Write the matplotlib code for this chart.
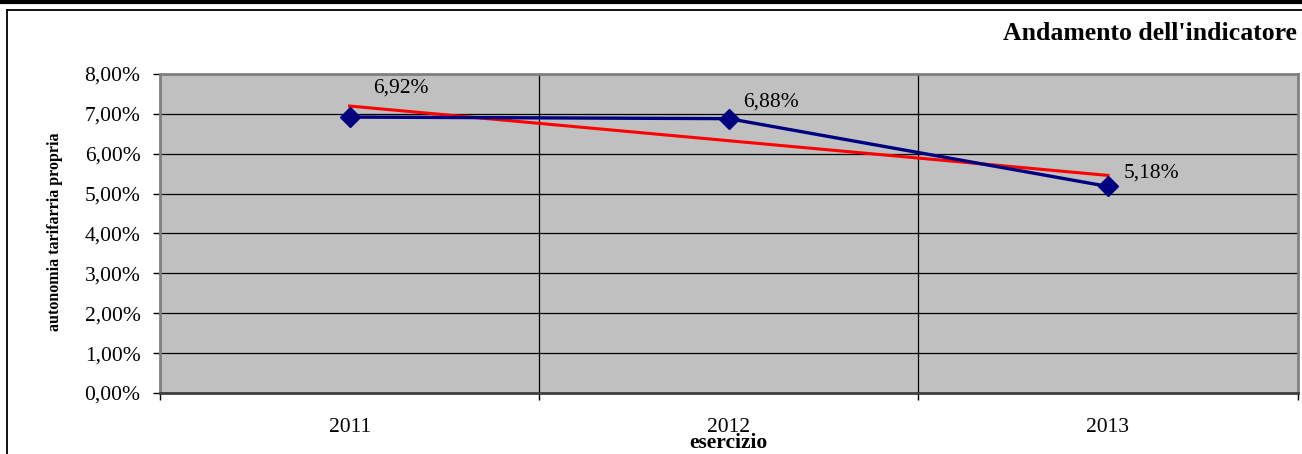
import numpy as np
from matplotlib import pyplot as plt
from matplotlib.lines import Line2D
from matplotlib.ticker import FuncFormatter

# dati
anni = ["2011", "2012", "2013"]
autonomia = [6.92, 6.88, 5.18]
etichette = ["6,92%", "6,88%", "5,18%"]

plt.rcParams['font.family'] = ['Liberation Serif', 'DejaVu Serif']

fig = plt.figure(figsize=(13.02, 4.54), dpi=100)
ax = fig.add_axes([160/1302, 1 - 393/454, 1137.5/1302, 319/454])
ax.set_facecolor('#C0C0C0')

x = np.arange(1, len(anni) + 1)

# linea di tendenza lineare (come in Excel)
coef = np.polyfit(x, autonomia, 1)
ax.plot(x, np.polyval(coef, x), color='#FF0000', linewidth=2.2, zorder=3)

ax.plot(x, autonomia, color='#000080', linewidth=2.4, marker='D',
        markersize=10, markerfacecolor='#000080', markeredgecolor='#000080', zorder=4)

# etichette dei valori
offsets = [(17, 14), (10, 5), (11, 3)]
for xi, yi, lab, off in zip(x, autonomia, etichette, offsets):
    ax.annotate(lab, (xi, yi), xytext=off, textcoords='offset points',
                fontsize=15.5, ha='left', va='bottom', color='black')

ax.set_xlim(0.5, len(anni) + 0.5)
ax.set_ylim(0, 8)
ax.set_yticks(np.arange(0, 9, 1))
ax.yaxis.set_major_formatter(FuncFormatter(lambda v, p: f"{v:.2f}%".replace('.', ',')))
ax.tick_params(axis='y', direction='out', length=5, width=1, pad=9, labelsize=15.5)

# tick di separazione tra le categorie, etichette al centro
ax.set_xticks(np.arange(0.5, len(anni) + 1, 1))
ax.set_xticklabels([])
ax.set_xticks(x, minor=True)
ax.set_xticklabels(anni, minor=True)
ax.tick_params(axis='x', which='major', direction='out', length=5, width=1)
ax.tick_params(axis='x', which='minor', length=0, pad=18, labelsize=15.5)

ax.grid(axis='y', color='black', linewidth=0.9, zorder=1)
for b in np.arange(1.5, len(anni), 1):
    ax.axvline(b, color='black', linewidth=0.9, zorder=1)
ax.set_axisbelow(True)

for side in ['left', 'top', 'right']:
    ax.spines[side].set_color('#808080')
    ax.spines[side].set_linewidth(2)
ax.spines['bottom'].set_color('#404040')
ax.spines['bottom'].set_linewidth(2)

fig.text(728/1302, 1 - 443/454, "esercizio", fontsize=15.5, fontweight='bold',
         ha='center', va='center')
fig.text(55/1302, 1 - 232/454, "autonomia tarifarria propria", fontsize=11.5,
         fontweight='bold', rotation=90, ha='center', va='center')
fig.text(1297/1302, 1 - 33/454, "Andamento dell'indicatore", fontsize=18.5,
         fontweight='bold', ha='right', va='center')

# cornice esterna
fig.add_artist(Line2D([0, 1], [1 - 1.5/454, 1 - 1.5/454], color='black', linewidth=3,
                      transform=fig.transFigure))
fig.add_artist(Line2D([6.5/1302, 1], [1 - 9.5/454, 1 - 9.5/454], color='black', linewidth=1.3,
                      transform=fig.transFigure))
fig.add_artist(Line2D([6.5/1302, 6.5/1302], [0, 1 - 9.5/454], color='black', linewidth=1.3,
                      transform=fig.transFigure))

fig.savefig('out.png', dpi=100)
